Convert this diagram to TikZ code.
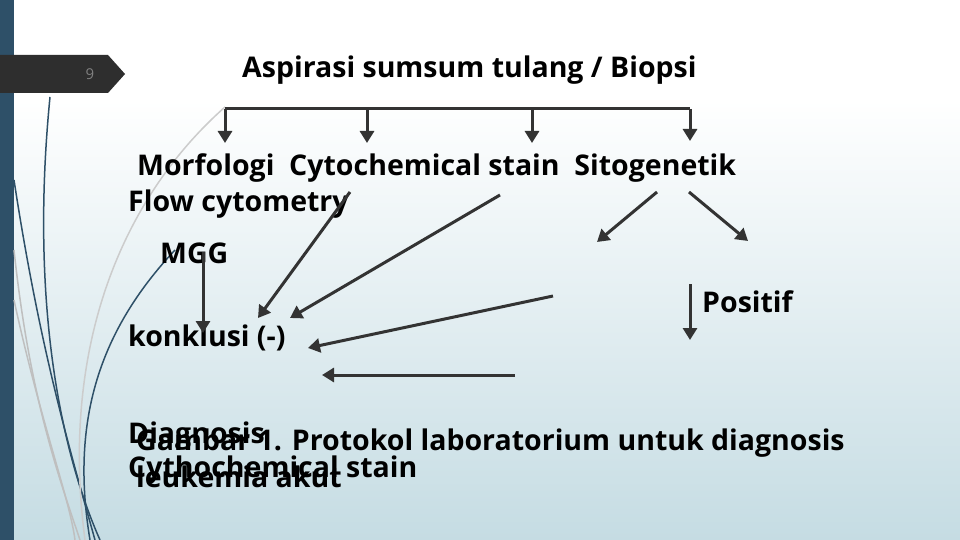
\documentclass[tikz,border=0pt]{standalone}
\usepackage{fontspec}
\setmainfont{Open Sans}
\usetikzlibrary{arrows.meta}
\definecolor{bar}{RGB}{46,80,104}
\definecolor{bgb}{RGB}{197,220,227}
\begin{document}
\begin{tikzpicture}[x=1pt,y=-1pt,
  arr/.style={draw=black!80,line width=3pt,-{Triangle[length=12pt,width=14pt]}},
  ln/.style={draw=black!80,line width=3pt},
  txt/.style={anchor=west,inner sep=0pt,font=\bfseries\fontsize{28.5}{28.5}\selectfont},
  deco/.style={line width=1.5pt}]
\useasboundingbox (0,0) rectangle (960,540);
\fill[white] (0,0) rectangle (960,100);
\shade[top color=white,bottom color=bgb] (0,100) rectangle (960,540);
\fill[bar] (0,0) rectangle (14,540);
% decorative curves
\draw[deco,bar] (50,97) .. controls (30,300) and (60,450) .. (100,540);
\draw[deco,bar] (14,180) .. controls (40,350) and (70,450) .. (95,540);
\draw[deco,gray!50] (14,250) .. controls (30,400) and (60,480) .. (80,540);
\draw[deco,gray!40] (225,107) .. controls (120,200) and (60,350) .. (85,540);
\draw[deco,bar] (175,250) .. controls (100,330) and (70,420) .. (90,540);
\draw[deco,gray!50] (14,300) .. controls (40,420) and (70,500) .. (75,540);
% tab
\fill[black!82] (0,55) -- (108,55) -- (125,74) -- (108,93) -- (0,93) -- cycle;
\node[text=black!50,font=\fontsize{15}{15}\selectfont] (nine) at (90,74) {9};
\node[txt] (title) at (242,70) {Aspirasi sumsum tulang / Biopsi};
\coordinate (b1) at (225,109); \coordinate (b4) at (690,109);
\coordinate (b2) at (367,109); \coordinate (b3) at (532,109);
\draw[ln] (b1) -- (b4);
\coordinate (e1) at (225,143); \coordinate (e2) at (367,143);
\coordinate (e3) at (532,143); \coordinate (e4) at (690,141);
\draw[arr] (b1)--(e1); \draw[arr] (b2)--(e2); \draw[arr] (b3)--(e3); \draw[arr] (b4)--(e4);
\node[txt] (row) at (137,168) {Morfologi\ \ Cytochemical stain\ \ Sitogenetik};
\node[txt] (flow) at (128,204) {Flow cytometry};
\node[txt] (mgg) at (160,253) {MGG};
\node[txt] (konk) at (128,338) {konklusi (-)};
\node[txt] (pos) at (702,302) {Positif};
\coordinate (m1) at (203,252); \coordinate (m2) at (203,333);
\draw[arr] (m1)--(m2);
\coordinate (f1) at (350,192); \coordinate (f2) at (258,318);
\draw[arr] (f1)--(f2);
\coordinate (c1) at (500,195); \coordinate (c2) at (290,318);
\draw[arr] (c1)--(c2);
\coordinate (d1) at (553,296); \coordinate (d2) at (308,348);
\draw[arr] (d1)--(d2);
\coordinate (g1) at (515,375); \coordinate (g2) at (322,375);
\draw[arr] (g1)--(g2);
\coordinate (s1) at (657,192); \coordinate (s2) at (597,242);
\draw[arr] (s1)--(s2);
\coordinate (t1) at (689,192); \coordinate (t2) at (748,241);
\draw[arr] (t1)--(t2);
\coordinate (p1) at (690,284); \coordinate (p2) at (690,340);
\draw[arr] (p1)--(p2);
\node[txt] (diag) at (128,436) {Diagnosis};
\node[txt] (gam) at (136,443) {Gambar 1. Protokol laboratorium untuk diagnosis};
\node[txt] (cyt) at (128,470) {Cythochemical stain};
\node[txt] (leu) at (136,477) {leukemia akut};
\end{tikzpicture}
\end{document}
